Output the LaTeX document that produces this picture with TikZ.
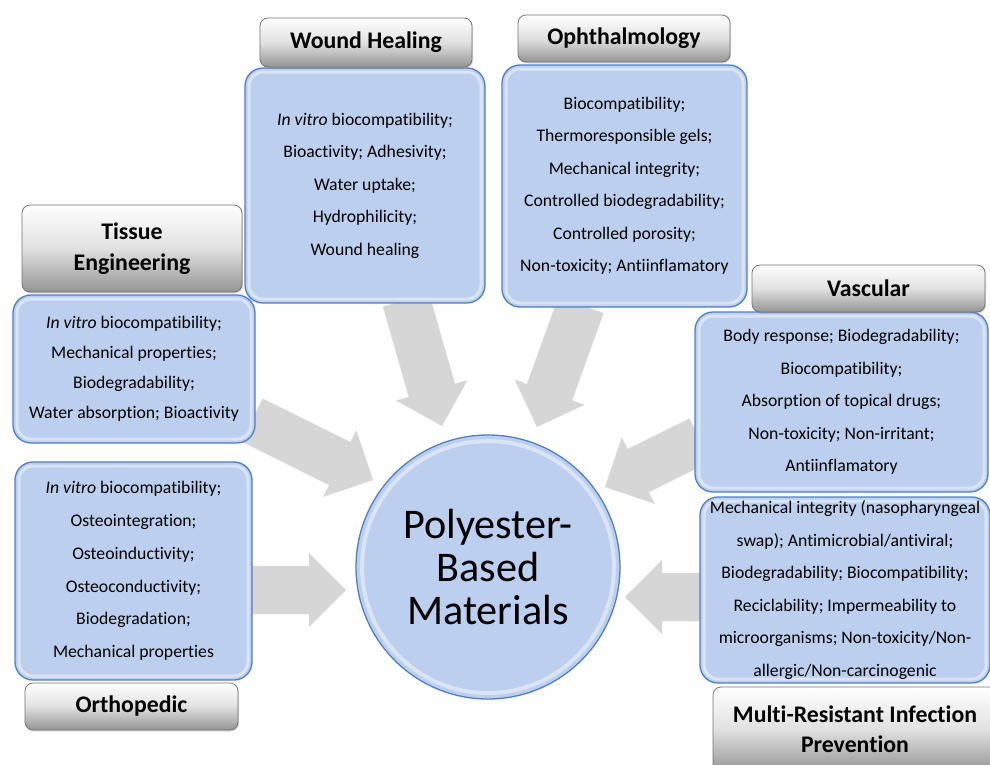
\documentclass[tikz,border=0pt]{standalone}
\usepackage{fontspec}
\setmainfont{Carlito}[Ligatures={NoCommon,NoRare}]
\usetikzlibrary{calc,shadows}

\definecolor{boxblue}{HTML}{BCCFEE}
\definecolor{edgeblue}{HTML}{4F7FC4}
\definecolor{arrowgray}{HTML}{D6D6D6}

% wide gray arrow from #1 to the tip #2
\newcommand{\blockarrow}[2]{%
	\coordinate (hb) at ($(#2)!37pt!(#1)$);
	\fill[arrowgray, draw=black!10] ($(#1)!24pt!90:(#2)$) -- ($(hb)!24pt!90:(#2)$) -- ($(hb)!37pt!90:(#2)$) -- (#2)
		-- ($(hb)!37pt!-90:(#2)$) -- ($(hb)!24pt!-90:(#2)$) -- ($(#1)!24pt!-90:(#2)$) -- cycle;
}

\begin{document}
\begin{tikzpicture}[x=1pt, y=-1pt,
	infobox/.style={draw=edgeblue, line width=1.3pt, fill=boxblue, rounded corners=18pt, align=center, inner sep=0pt,
		font=\fontsize{17.7}{32.5}\selectfont,
		path picture={\draw[white, opacity=0.45, line width=3pt, rounded corners=14pt]
			([shift={(4pt,4pt)}]path picture bounding box.south west) rectangle ([shift={(-4pt,-4pt)}]path picture bounding box.north east);}},
	titlebox/.style={draw=black!55, line width=0.8pt, rounded corners=8pt, top color=white, bottom color=black!42, middle color=black!12,
		align=center, inner sep=0pt, font=\bfseries\fontsize{23.8}{31}\selectfont,
		drop shadow={opacity=0.3, shadow xshift=1pt, shadow yshift=-1.5pt}},
	corebox/.style={circle, draw=edgeblue, line width=1.3pt, fill=boxblue, align=center, inner sep=0pt,
		font=\fontsize{42.2}{43}\selectfont,
		path picture={\draw[white, opacity=0.45, line width=4pt] (path picture bounding box.center) circle (126pt);}}]
	\useasboundingbox (0,0) rectangle (990,764);
	\clip (0,0) rectangle (990,764);
	% arrows
	\coordinate (whout) at (406,300);
	\coordinate (whtip) at (442,426);
	\coordinate (opout) at (581,305);
	\coordinate (optip) at (537,427);
	\coordinate (teout) at (252,420);
	\coordinate (tetip) at (373,480);
	\coordinate (vaout) at (700,440);
	\coordinate (vatip) at (605,487);
	\coordinate (orout) at (250,590);
	\coordinate (ortip) at (346,590);
	\coordinate (mrout) at (702,597);
	\coordinate (mrtip) at (625,597);
	\blockarrow{whout}{whtip}
	\blockarrow{opout}{optip}
	\blockarrow{teout}{tetip}
	\blockarrow{vaout}{vatip}
	\blockarrow{orout}{ortip}
	\blockarrow{mrout}{mrtip}
	% centre
	\draw (488,567) node[corebox, minimum size=264] (core) {Polyester-\\Based\\Materials};
	% property boxes
	\draw (365,185.5) node[infobox, minimum width=240, minimum height=235] (whbox) {\textit{In vitro} biocompatibility;\\Bioactivity; Adhesivity;\\Water uptake;\\Hydrophilicity;\\Wound healing};
	\draw (624.5,186) node[infobox, minimum width=245, minimum height=242] (opbox) {Biocompatibility;\\Thermoresponsible gels;\\Mechanical integrity;\\Controlled biodegradability;\\Controlled porosity;\\Non-toxicity; Antiinflamatory};
	\draw (134,369) node[infobox, minimum width=242, minimum height=148, font=\fontsize{17.7}{30}\selectfont] (tebox) {\textit{In vitro} biocompatibility;\\Mechanical properties;\\Biodegradability;\\Water absorption; Bioactivity};
	\draw (841.5,402) node[infobox, minimum width=293, minimum height=180] (vabox) {Body response; Biodegradability;\\Biocompatibility;\\Absorption of topical drugs;\\Non-toxicity; Non-irritant;\\Antiinflamatory};
	\draw (845,590) node[infobox, minimum width=290, minimum height=186] (mrbox) {Mechanical integrity (nasopharyngeal\\swap); Antimicrobial/antiviral;\\Biodegradability; Biocompatibility;\\Reciclability; Impermeability to\\microorganisms; Non-toxicity/Non-\\allergic/Non-carcinogenic};
	\draw (133.5,571) node[infobox, minimum width=237, minimum height=218, font=\fontsize{17.7}{32.8}\selectfont] (orbox) {\textit{In vitro} biocompatibility;\\Osteointegration;\\Osteoinductivity;\\Osteoconductivity;\\Biodegradation;\\Mechanical properties};
	% titles
	\draw (366,42.5) node[titlebox, minimum width=212, minimum height=49] (whtitle) {Wound Healing};
	\draw (624,38.5) node[titlebox, minimum width=212, minimum height=47] (optitle) {Ophthalmology};
	\draw (132,248.5) node[titlebox, minimum width=220, minimum height=87] (tetitle) {Tissue\\Engineering};
	\draw (868.5,288.5) node[titlebox, minimum width=233, minimum height=47] (vatitle) {Vascular};
	\draw (131.5,706.5) node[titlebox, minimum width=213, minimum height=47] (ortitle) {Orthopedic};
	\draw (855,729.5) node[titlebox, minimum width=284, minimum height=85, font=\bfseries\fontsize{23.8}{30}\selectfont] (mrtitle) {Multi-Resistant Infection\\Prevention};
\end{tikzpicture}
\end{document}
